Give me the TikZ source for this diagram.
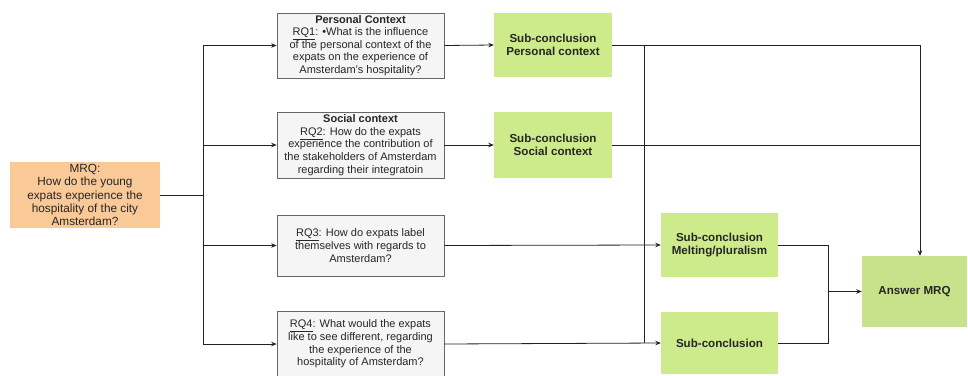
\documentclass[tikz,border=0pt]{standalone}
\usepackage{fontspec}
\setmainfont{Liberation Sans}
\usetikzlibrary{arrows.meta}
\definecolor{mrqfill}{HTML}{F9C997}
\definecolor{rqfill}{HTML}{F5F5F5}
\definecolor{rqline}{HTML}{666666}
\definecolor{subfill}{HTML}{CDEB8B}
\definecolor{ansfill}{HTML}{C8E28B}
\definecolor{lin}{HTML}{222222}
\begin{document}
\begin{tikzpicture}[x=1pt,y=-1pt,
  txt/.style={font=\fontsize{11}{12.6}\selectfont, align=center, text=black!85, inner sep=0pt},
  mrqbox/.style={txt, font=\fontsize{11.8}{13.2}\selectfont, fill=mrqfill, draw=none, minimum width=150pt, minimum height=66pt},
  rqbox/.style={txt, fill=rqfill, draw=rqline, line width=0.7pt, minimum width=167pt, minimum height=65pt},
  subbox/.style={txt, font=\fontsize{11.6}{13.6}\selectfont\bfseries, fill=subfill, draw=none, minimum width=118pt, minimum height=64pt},
  ansbox/.style={txt, font=\fontsize{11.6}{13.6}\selectfont\bfseries, fill=ansfill, draw=none, minimum width=105pt, minimum height=71pt},
  conn/.style={draw=lin, line width=0.8pt},
  arr/.style={conn, -{Stealth[length=5.5pt,width=4.5pt]}}]
\useasboundingbox (0,0) rectangle (968,375);
\node[mrqbox] (mrq) at (85,195) {MRQ:\\How do the young\\expats experience the\\hospitality of the city\\Amsterdam?};
\node[rqbox] (rq1) at (360.5,45.5) {\textbf{Personal Context}\\\underline{RQ1}: •What is the influence\\of the personal context of the\\expats on the experience of\\Amsterdam's hospitality?};
\node[rqbox, minimum height=66pt] (rq2) at (360.5,145) {\textbf{Social context}\\\underline{RQ2}: How do the expats\\experience the contribution of\\the stakeholders of Amsterdam\\regarding their integratoin};
\node[rqbox, minimum height=61pt] (rq3) at (360.5,245.5) {\underline{RQ3}: How do expats label\\themselves with regards to\\Amsterdam?};
\node[rqbox, minimum height=66pt] (rq4) at (360.5,344) {\underline{RQ4}: What would the expats\\like to see different, regarding\\the experience of the\\hospitality of Amsterdam?};
\node[subbox] (s1) at (553,45) {Sub-conclusion\\Personal context};
\node[subbox, minimum height=66pt] (s2) at (553,145) {Sub-conclusion\\Social context};
\node[subbox, minimum width=117pt] (s3) at (719.5,245) {Sub-conclusion\\Melting/pluralism};
\node[subbox, minimum width=117pt, minimum height=62pt] (s4) at (719.5,343) {Sub-conclusion};
\node[ansbox] (ans) at (914.5,291.5) {Answer MRQ};
% MRQ tree
\draw[arr] (mrq.east) -- ++(43,0) |- (rq1.west);
\draw[arr] (mrq.east) -- ++(43,0) |- (rq2.west);
\draw[arr] (mrq.east) -- ++(43,0) |- (rq3.west);
\draw[arr] (mrq.east) -- ++(43,0) |- (rq4.west);
% RQ to sub-conclusions
\draw[arr] (rq1.east) -- (s1.west);
\draw[arr] (rq2.east) -- (s2.west);
\draw[arr] (rq3.east) -- (s3.west);
\draw[arr] (rq4.east) -- (s4.west);
% joints
\coordinate (j1) at (644,45);
\coordinate (j4) at (644,343);
\coordinate (r2) at (920,145);
\coordinate (m) at (828,291.5);
\draw[conn] (j1) -- (j4);
\draw[arr] (s1.east) -| ([xshift=5.5pt]ans.north);
\draw[conn] (s2.east) -- (r2);
\draw[conn] (s3.east) -| (m);
\draw[conn] (s4.east) -| (m);
\draw[arr] (m) -- (ans.west);
\end{tikzpicture}
\end{document}
